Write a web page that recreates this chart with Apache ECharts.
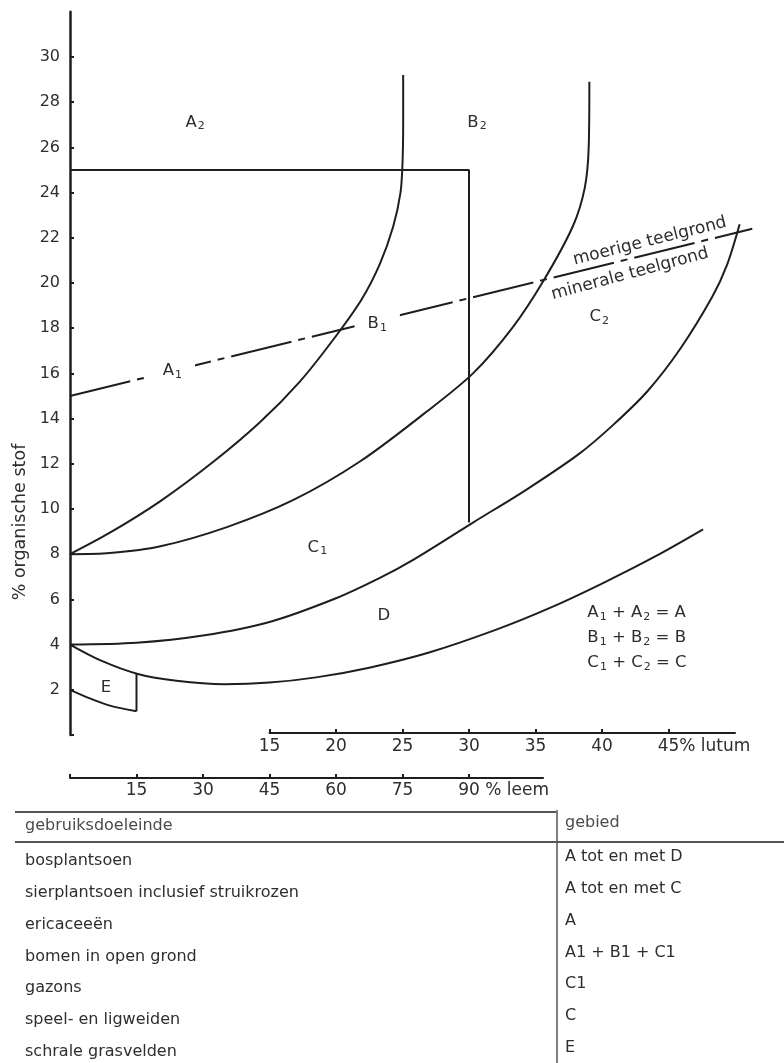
<!DOCTYPE html>
<html>
<head>
<meta charset="utf-8">
<script src="https://cdn.jsdelivr.net/npm/echarts@6/dist/echarts.min.js"></script>
<style>html,body{margin:0;padding:0;background:#fff}#c{width:784px;height:1063px}</style>
</head>
<body>
<div id="c"></div>
<script>
// ---------------- data ----------------
const yTickValues = [0, 2, 4, 6, 8, 10, 12, 14, 16, 18, 20, 22, 24, 26, 28, 30];
const yLabelValues = [2, 4, 6, 8, 10, 12, 14, 16, 18, 20, 22, 24, 26, 28, 30];
const lutumTicks = [15, 20, 25, 30, 35, 40, 45];
const leemTicks = [0, 15, 30, 45, 60, 75, 90];
const leemLabels = [15, 30, 45, 60, 75, 90];
const lutumLastLabel = '45% lutum';
const leemLastLabel = '90 % leem';

// boundary curves: [% lutum, % organische stof]
const curveAB = [[0, 8], [3, 8.95], [6.8, 10.35], [10.8, 12.1], [14.3, 13.85], [17.3, 15.65], [19.8, 17.5], [21.9, 19.25], [23.3, 20.85], [24.3, 22.5], [24.85, 24.0], [25.0, 25.3], [25.05, 27], [25.05, 29.2]];
const curveBC = [[0, 8], [3, 8.05], [6.8, 8.35], [11.8, 9.2], [16.8, 10.4], [21.8, 12.1], [26.8, 14.3], [30.3, 16.0], [33.3, 18.05], [35.6, 20.1], [37.8, 22.5], [38.7, 24.2], [39.0, 26], [39.05, 28.9]];
const curveCD = [[0, 4], [5, 4.08], [10, 4.4], [15, 5.0], [20, 6.05], [23.3, 6.95], [25.8, 7.75], [30.3, 9.4], [34.3, 10.85], [38.3, 12.45], [40.8, 13.7], [43.4, 15.2], [45.9, 17.1], [48.3, 19.4], [49.4, 20.8], [50.35, 22.6]];
const curveD = [[0, 4], [2.3, 3.3], [5.1, 2.7], [8, 2.4], [11.6, 2.25], [15, 2.32], [18.5, 2.55], [22.5, 2.98], [27, 3.65], [32, 4.65], [36, 5.6], [40, 6.7], [44, 7.9], [47.6, 9.1]];
const curveEBottom = [[0, 2], [1.5, 1.62], [3, 1.3], [5, 1.05]];
const lineESide = [[5, 1.05], [5, 2.7]];
const lineRect = [[0, 25], [30, 25], [30, 9.4]];
const lineTeel = [[0, 15], [51.3, 22.4]];

const regionBase = ['A', 'B', 'A', 'B', 'C', 'C', 'D', 'E'];
const regionSub = ['2', '2', '1', '1', '2', '1', '', ''];
const regionAt = [[9.4, 27.1], [30.6, 27.1], [7.7, 16.1], [23.1, 18.2], [39.8, 18.5], [18.6, 8.3], [23.6, 5.3], [2.7, 2.1]];

const legendLetters = ['A', 'B', 'C'];
const legendAt = [[38.9, 5.4], [38.9, 4.3], [38.9, 3.2]];

const teelTexts = ['moerige teelgrond', 'minerale teelgrond'];
const teelAt = [[43.6, 21.85], [42.1, 20.4]];
const teelRotate = [14, 15];

const yName = '% organische stof';

const tableHead = ['gebruiksdoeleinde', 'gebied'];
const tableUse = ['bosplantsoen', 'sierplantsoen inclusief struikrozen', 'ericaceeën', 'bomen in open grond', 'gazons', 'speel- en ligweiden', 'schrale grasvelden'];
const tableArea = ['A tot en met D', 'A tot en met C', 'A', 'A1 + B1 + C1', 'C1', 'C', 'E'];

// ---------------- layout ----------------
const FONT = '"DejaVu Sans", "Noto Sans", sans-serif';
const INK = '#1e1e1e';
const TXT = '#2e2e2e';
const X0 = 70, XS = 13.3, Y0 = 735, YS = 22.6;
const LMAX = 52, YMAX = 32, LEEM_MAX = 106.7;
const AX_FS = 16, BX_FS = 17;

const mctx = document.createElement('canvas').getContext('2d');
function textW(t, size) { mctx.font = size + 'px ' + FONT; return mctx.measureText(t).width; }
const lutumPad = textW(lutumLastLabel, BX_FS) - textW('45', BX_FS);
const leemPad = textW(leemLastLabel, BX_FS) - textW('90', BX_FS);

const rich = {
  m: { fontFamily: FONT, fontSize: 16.5, color: TXT, lineHeight: 19 },
  s: { fontFamily: FONT, fontSize: 11, color: TXT, lineHeight: 11, verticalAlign: 'bottom', padding: [0, 0, 0, 1] },
  t: { fontFamily: FONT, fontSize: 17, color: TXT }
};
function sub(base, s) { return '{m|' + base + '}' + (s ? '{s|' + s + '}' : ''); }

const curveStyle = { color: INK, width: 2 };
function lineSeries(data, smooth, extra) {
  return Object.assign({
    type: 'line', xAxisIndex: 0, yAxisIndex: 0, data: data, symbol: 'none', showSymbol: false,
    smooth: smooth, silent: true, lineStyle: curveStyle, z: 2
  }, extra || {});
}

const labelData = [];
regionBase.forEach((b, i) => {
  const gap = (i === 2 || i === 3);
  labelData.push({
    value: regionAt[i],
    label: {
      formatter: sub(b, regionSub[i]),
      backgroundColor: gap ? '#fff' : 'transparent',
      padding: gap ? [2, 13, 2, 13] : 0
    }
  });
});
legendLetters.forEach((b, i) => {
  labelData.push({
    value: legendAt[i],
    label: {
      align: 'left',
      formatter: sub(b, '1') + '{m| + }' + sub(b, '2') + '{m| = ' + b + '}'
    }
  });
});
teelTexts.forEach((t, i) => {
  labelData.push({
    value: teelAt[i],
    label: { rotate: teelRotate[i], formatter: '{t|' + t + '}' }
  });
});

const tableGraphics = [];
const LINE_C = '#555';
const TFS = 16;
tableGraphics.push({ type: 'line', shape: { x1: 15, y1: 812, x2: 556, y2: 812 }, style: { stroke: LINE_C, lineWidth: 2 } });
tableGraphics.push({ type: 'line', shape: { x1: 15, y1: 842, x2: 784, y2: 842 }, style: { stroke: LINE_C, lineWidth: 2 } });
tableGraphics.push({ type: 'line', shape: { x1: 557, y1: 810, x2: 557, y2: 1063 }, style: { stroke: LINE_C, lineWidth: 1.5 } });
tableGraphics.push({ type: 'text', x: 25, y: 826, style: { text: tableHead[0], font: TFS + 'px ' + FONT, fill: '#4a4a4a', verticalAlign: 'middle' } });
tableGraphics.push({ type: 'text', x: 565, y: 823, style: { text: tableHead[1], font: TFS + 'px ' + FONT, fill: '#4a4a4a', verticalAlign: 'middle' } });
tableUse.forEach((t, i) => {
  tableGraphics.push({ type: 'text', x: 25, y: 861 + i * 31.8, style: { text: t, font: TFS + 'px ' + FONT, fill: TXT, verticalAlign: 'middle' } });
});
tableArea.forEach((t, i) => {
  tableGraphics.push({ type: 'text', x: 565, y: 857 + i * 31.8, style: { text: t, font: TFS + 'px ' + FONT, fill: TXT, verticalAlign: 'middle' } });
});
tableGraphics.push({ type: 'text', x: 20, y: 522, rotation: Math.PI / 2, style: { text: yName, font: '17.5px ' + FONT, fill: TXT, align: 'center', verticalAlign: 'middle' } });

const option = {
  animation: false,
  backgroundColor: '#fff',
  grid: [
    { left: X0, top: Y0 - YMAX * YS, width: LMAX * XS, height: YMAX * YS },
    { left: X0 + 15 * XS, top: 700, width: 35 * XS, height: 33 },
    { left: X0, top: 745, width: LEEM_MAX / 3 * XS, height: 33 }
  ],
  xAxis: [
    { gridIndex: 0, type: 'value', min: 0, max: LMAX, show: false },
    {
      gridIndex: 1, type: 'value', min: 15, max: 50,
      axisLine: { show: true, onZero: false, lineStyle: { color: INK, width: 2 } },
      axisTick: { show: true, inside: true, length: 4, customValues: lutumTicks, lineStyle: { color: INK, width: 2 } },
      axisLabel: {
        customValues: lutumTicks, margin: 5, color: TXT, fontFamily: FONT, fontSize: BX_FS,
        formatter: v => v === 45 ? '{r|' + lutumLastLabel + '}' : String(v),
        rich: { r: { fontFamily: FONT, fontSize: BX_FS, color: TXT, padding: [0, 0, 0, lutumPad] } }
      },
      splitLine: { show: false }
    },
    {
      gridIndex: 2, type: 'value', min: 0, max: LEEM_MAX,
      axisLine: { show: true, onZero: false, lineStyle: { color: INK, width: 2 } },
      axisTick: { show: true, inside: true, length: 4, customValues: leemTicks, lineStyle: { color: INK, width: 2 } },
      axisLabel: {
        customValues: leemLabels, margin: 4, color: TXT, fontFamily: FONT, fontSize: BX_FS,
        formatter: v => v === 90 ? '{r|' + leemLastLabel + '}' : String(v),
        rich: { r: { fontFamily: FONT, fontSize: BX_FS, color: TXT, padding: [0, 0, 0, leemPad] } }
      },
      splitLine: { show: false }
    }
  ],
  yAxis: [
    {
      gridIndex: 0, type: 'value', min: 0, max: YMAX,
      axisLine: { show: true, onZero: false, lineStyle: { color: INK, width: 2.5 } },
      axisTick: { show: true, inside: true, length: 4, customValues: yTickValues, lineStyle: { color: INK, width: 2 } },
      axisLabel: { customValues: yLabelValues, margin: 10, color: TXT, fontFamily: FONT, fontSize: AX_FS },
      splitLine: { show: false }
    },
    { gridIndex: 1, type: 'value', show: false },
    { gridIndex: 2, type: 'value', show: false }
  ],
  series: [
    lineSeries(curveAB, 0.3),
    lineSeries(curveBC, 0.3),
    lineSeries(curveCD, 0.3),
    lineSeries(curveD, 0.3),
    lineSeries(curveEBottom, 0.3),
    lineSeries(lineESide, false),
    lineSeries(lineRect, false),
    lineSeries(lineTeel, false, { lineStyle: { color: INK, width: 2, type: [62, 7, 7, 7] } }),
    {
      type: 'scatter', xAxisIndex: 0, yAxisIndex: 0, symbolSize: 1, silent: true, z: 10,
      itemStyle: { color: 'rgba(0,0,0,0)', opacity: 0 },
      label: { show: true, position: 'inside', color: TXT, opacity: 1, rich: rich },
      emphasis: { disabled: true },
      data: labelData
    }
  ],
  graphic: tableGraphics
};

const chart = echarts.init(document.getElementById('c'));
chart.setOption(option);
</script>
</body>
</html>
